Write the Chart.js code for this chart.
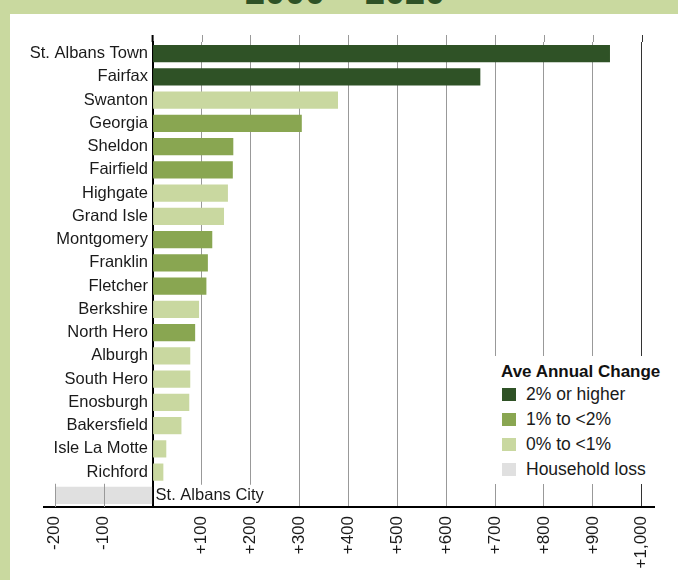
<!DOCTYPE html>
<html>
<head>
<meta charset="utf-8">
<script src="https://cdn.jsdelivr.net/npm/chart.js@4"></script>
<style>
body { margin: 0; background: #fff; }
#wrap { position: relative; width: 678px; height: 580px; overflow: hidden; font-family: "Liberation Sans", Arial, sans-serif; }
#band { position: absolute; left: 0; top: 0; width: 678px; height: 14px; background: #c9d99f; overflow: hidden; }
#band span { position: absolute; left: 0; width: 690px; top: -26px; text-align: center; font: bold 36px/36px "Liberation Sans", Arial, sans-serif; color: #2f5226; white-space: pre; }
#strip { position: absolute; left: 0; top: 0; width: 10px; height: 580px; background: #c9d99f; }
#chart { position: absolute; left: 0; top: 0; }
#legend { position: absolute; left: 494px; top: 356px; width: 184px; height: 128px; background: #fff; }
#legend .lt { position: absolute; left: 7px; top: 5px; font-weight: bold; font-size: 17px; line-height: 22px; color: #111; white-space: nowrap; }
#legend .li { position: absolute; left: 8px; height: 25px; line-height: 25px; font-size: 17.5px; color: #1a1a1a; white-space: nowrap; }
#legend .li i { display: inline-block; width: 14px; height: 13px; margin-right: 10px; vertical-align: -1px; }
</style>
</head>
<body>
<div id="wrap">
  <div id="band"><span>2000 – 2020</span></div>
  <div id="strip"></div>
  <canvas id="chart" width="678" height="580"></canvas>
  <div id="legend"></div>
</div>
<script>
// household change by town, 2000 - 2020
let towns = ['St. Albans Town', 'Fairfax', 'Swanton', 'Georgia', 'Sheldon', 'Fairfield', 'Highgate',
  'Grand Isle', 'Montgomery', 'Franklin', 'Fletcher', 'Berkshire', 'North Hero', 'Alburgh',
  'South Hero', 'Enosburgh', 'Bakersfield', 'Isle La Motte', 'Richford', 'St. Albans City'];
let households = [935, 670, 379, 305, 165, 164, 154, 146, 122, 113, 110, 95, 87, 77, 77, 75, 59, 28, 22, -198];
let changeClass = ['high', 'high', 'low', 'mid', 'mid', 'mid', 'low', 'low', 'mid', 'mid', 'mid', 'low',
  'mid', 'low', 'low', 'low', 'low', 'low', 'low', 'loss'];

let legendTitle = 'Ave Annual Change';
let legendKeys = ['high', 'mid', 'low', 'loss'];
let legendLabels = ['2% or higher', '1% to <2%', '0% to <1%', 'Household loss'];

let classColors = { high: '#2f5226', mid: '#89a651', low: '#c9d8a0', loss: '#e0e0e0' };

let xMin = -222, xMax = 1025;
let labelFont = '"Liberation Sans", Arial, sans-serif';

// legend (html, sits over the chart)
let legend = document.getElementById('legend');
legend.innerHTML = '<div class="lt">' + legendTitle + '</div>';
legendKeys.forEach(function(k, i){
    let d = document.createElement('div');
    d.className = 'li';
    d.style.top = (26 + i * 25) + 'px';
    d.innerHTML = '<i style="background:' + classColors[k] + '"></i>';
    d.appendChild(document.createTextNode(legendLabels[i]));
    legend.appendChild(d);
});

// extra bits: short grid ticks for negatives, line stubs above the plot, label of the last town
let extras = {
    id: 'extras',
    afterDatasetsDraw(chart){
        let ctx = chart.ctx, x = chart.scales.x, y = chart.scales.y;
        let area = chart.chartArea;
        let row = y.height / towns.length;
        let last = towns.length - 1;
        let yc = y.getPixelForValue(last);
        ctx.save();
        // negative grid stubs only in the last row
        ctx.strokeStyle = '#999';
        ctx.lineWidth = 1;
        x.ticks.forEach(function(t){
            if (t.value < 0){
                let px = Math.round(x.getPixelForValue(t.value)) + 0.5;
                ctx.beginPath();
                ctx.moveTo(px, yc - row / 2);
                ctx.lineTo(px, area.bottom);
                ctx.stroke();
            }
        });
        // label to the right of zero
        let zx = x.getPixelForValue(0);
        ctx.font = '16.5px ' + labelFont;
        let w = ctx.measureText(towns[last]).width;
        ctx.fillStyle = '#fff';
        ctx.fillRect(zx + 1.5, yc - row / 2 + 1, w + 6, row - 2);
        ctx.fillStyle = '#1a1a1a';
        ctx.textAlign = 'left';
        ctx.textBaseline = 'middle';
        ctx.fillText(towns[last], zx + 3, yc);
        // stubs above plot
        x.ticks.forEach(function(t){
            if (t.value >= 0){
                let px = x.getPixelForValue(t.value);
                ctx.beginPath();
                ctx.strokeStyle = t.value === 0 ? '#000' : (t.value === 1000 ? '#333' : '#999');
                ctx.lineWidth = t.value === 0 ? 2 : 1;
                if (t.value !== 0) px = Math.round(px) + 0.5;
                ctx.moveTo(px, area.top - 7);
                ctx.lineTo(px, area.top);
                ctx.stroke();
            }
        });
        ctx.restore();
    }
};

let chart = new Chart(document.getElementById('chart'), {
    type: 'bar',
    data: {
        labels: towns,
        datasets: [{
            data: households,
            backgroundColor: changeClass.map(c => classColors[c]),
            borderWidth: 0,
            barPercentage: 0.74,
            categoryPercentage: 1
        }]
    },
    options: {
        indexAxis: 'y',
        responsive: false,
        animation: false,
        layout: { padding: { left: 44, right: 24, top: 42, bottom: 0 } },
        plugins: { legend: { display: false }, tooltip: { enabled: false } },
        scales: {
            x: {
                min: xMin,
                max: xMax,
                afterFit: s => { s.height = 73; },
                border: { color: '#000', width: 2 },
                grid: {
                    drawTicks: false,
                    color: c => (c.tick && (c.tick.value <= 0)) ? 'rgba(0,0,0,0)' : (c.tick && c.tick.value === 1000 ? '#333' : '#999'),
                    lineWidth: 1
                },
                ticks: {
                    stepSize: 100,
                    includeBounds: false,
                    autoSkip: false,
                    minRotation: 90,
                    maxRotation: 90,
                    padding: 9,
                    color: '#1a1a1a',
                    font: { family: labelFont, size: 17 },
                    callback: v => v === 0 ? '' : (v > 0 ? '+' + v.toLocaleString('en-US') : String(v))
                }
            },
            y: {
                position: { x: 0 },
                border: { color: '#000', width: 2 },
                grid: { display: false, drawTicks: false },
                ticks: {
                    color: '#1a1a1a',
                    font: { family: labelFont, size: 16.5 },
                    // trailing space keeps the names off the zero line
                    callback: (v, i) => i === towns.length - 1 ? '' : towns[i] + ' '
                }
            }
        }
    },
    plugins: [extras]
});
</script>
</body>
</html>
